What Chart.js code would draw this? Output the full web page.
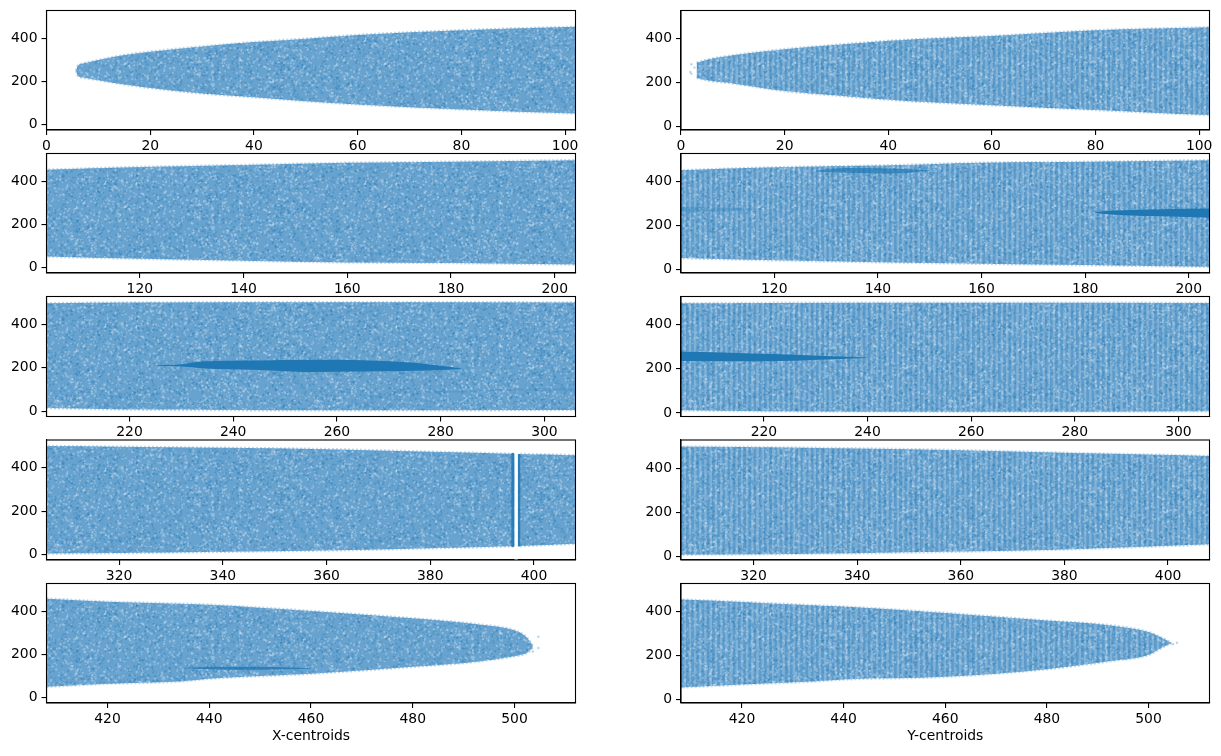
<!DOCTYPE html>
<html>
<head>
<meta charset="utf-8">
<title>Centroids</title>
<script src="https://cdn.jsdelivr.net/npm/chart.js@4"></script>
<style>
html, body { margin: 0; padding: 0; background: #fff; }
canvas { position: absolute; }
</style>
</head>
<body>
<script>
// axis limits and ticks, one entry per row
const rowMin = [0, 102, 204, 306, 408];
const rowMax = [102, 204, 306, 408, 512];
const rowTicks = [
    [0, 20, 40, 60, 80, 100],
    [120, 140, 160, 180, 200],
    [220, 240, 260, 280, 300],
    [320, 340, 360, 380, 400],
    [420, 440, 460, 480, 500]
];
const yTicks = [0, 200, 400];

// outline of the point cloud
const xCloudX = [5.7, 6, 7, 10, 15, 20, 30, 40, 50, 60, 80, 102, 120, 140, 160, 180, 204, 220, 260, 306, 320, 340, 360, 380, 397, 408, 420, 434, 440, 460, 480, 493, 500, 502, 503, 503.6];
const xCloudUpper = [250, 272, 283, 299, 322, 338, 362, 382, 398, 415, 437, 453, 466, 475, 485, 490, 497, 500, 502, 500, 497, 492, 486, 474, 464, 458, 444, 435, 430, 401, 367, 339, 312, 288, 262, 240];
const xCloudLower = [250, 228, 218, 206, 186, 170, 145, 127, 109, 94, 71, 52, 42, 33, 25, 22, 15, 8, 5, 6, 8, 14, 20, 30, 40, 51, 65, 75, 88, 111, 143, 168, 192, 202, 216, 232];

const yCloudX = [3, 5, 10, 20, 30, 40, 50, 60, 80, 102, 120, 140, 160, 180, 204, 220, 260, 306, 340, 360, 380, 408, 420, 434, 440, 460, 480, 493, 500, 503, 504.5];
const yCloudUpper = [290, 304, 324, 352, 372, 390, 403, 412, 438, 452, 465, 473, 486, 490, 497, 499, 500, 498, 490, 482, 470, 455, 444, 429, 423, 394, 359, 336, 307, 277, 258];
const yCloudLower = [222, 210, 196, 161, 141, 122, 108, 97, 75, 52, 42, 33, 26, 20, 12, 8, 6, 8, 15, 22, 32, 55, 68, 82, 91, 103, 138, 176, 203, 240, 256];

// dense streaks
const xStreakX = [225, 230, 234, 245, 255, 265, 275, 280, 284];
const xStreakUpper = [212, 216, 229, 234, 237, 235, 223, 209, 197];
const xStreakLower = [209, 206, 198, 190, 181, 183, 186, 190, 194];
const xFaintAX = [272, 284, 292, 306];
const xFaintAUpper = [92, 94, 104, 106];
const xFaintALower = [88, 86, 96, 94];
const xFaintBX = [435, 442, 450, 460];
const xFaintBUpper = [139, 144, 143, 137];
const xFaintBLower = [137, 131, 130, 134];

const yStreakX = [182, 185, 195, 204, 220, 232, 240];
const yStreakUpper = [262, 267, 274, 278, 268, 258, 251];
const yStreakLower = [258, 250, 242, 236, 234, 242, 249];
const yFaintAX = [128, 134, 142, 150];
const yFaintAUpper = [450, 462, 460, 452];
const yFaintALower = [446, 440, 436, 448];
const yFaintBX = [102, 108, 116];
const yFaintBUpper = [284, 282, 276];
const yFaintBLower = [262, 264, 270];

// empty column in the X panel and its crowded edges
const gapX = [396.2, 396.9];
const gapUpper = [530, 530];
const gapLower = [-30, -30];
const gapEdgeAX = [395.6, 396.2];
const gapEdgeAUpper = [468, 468];
const gapEdgeALower = [36, 36];
const gapEdgeBX = [396.9, 397.4];
const gapEdgeBUpper = [464, 464];
const gapEdgeBLower = [38, 38];

// stray points past the tips
const xStrayX = [504.7, 504.7, 503.6];
const xStrayY = [282, 230, 214];
const yStrayX = [2, 1.8, 2, 2.6, 505.6, 504.8];
const yStrayY = [283, 248, 240, 268, 258, 252];

const geo = {
    rowTop: [10.5, 153.5, 296.5, 440, 583.5],
    rowBottom: [130, 273, 416.5, 560, 703],
    canvasTop: [4, 147, 290, 434, 577],
    canvasHeight: [150, 150, 150, 150, 179],
    colLeft: [0, 634],
    colAxis: [46.5, 47],
    colWidth: [529, 528.5],
    canvasWidth: [587, 587]
};

const fontFamily = "'DejaVu Sans'";
const fontSize = 13.9;
const blue = '#1f77b4';
const edgeColor = 'rgba(100,160,205,0.4)';

// speckled fill for the cloud, this is only texture and no data goes through it.
// the Y column also gets faint vertical stripes, one per unit of x
function cloudPattern(stripes) {
    const size = 260;
    const tile = document.createElement('canvas');
    tile.width = size;
    tile.height = size;
    const c = tile.getContext('2d');
    c.fillStyle = 'rgb(104,163,208)';
    c.fillRect(0, 0, size, size);
    if (stripes) {
        for (let i = 0; i < 50; i++) {
            c.fillStyle = 'rgba(225,238,248,0.2)';
            c.fillRect(i * 5.2 + 2.8, 0, 2.4, size);
            c.fillStyle = 'rgba(31,119,180,0.16)';
            c.fillRect(i * 5.2, 0, 2.4, size);
        }
    }
    let seed = 4711;
    const next = () => {
        seed = (seed * 16807) % 2147483647;
        return seed / 2147483647;
    };
    for (let i = 0; i < 9000; i++) {
        const px = next() * size;
        const py = next() * size;
        const r = 0.7 + next() * 0.6;
        c.fillStyle = i % 2 === 0 ? 'rgba(232,242,250,0.3)' : 'rgba(31,119,180,0.3)';
        [-size, 0, size].forEach(dx => {
            [-size, 0, size].forEach(dy => {
                c.beginPath();
                c.arc(px + dx, py + dy, r, 0, Math.PI * 2);
                c.fill();
            });
        });
    }
    return c.createPattern(tile, 'repeat');
}

const xPattern = cloudPattern(false);
const yPattern = cloudPattern(true);

function points(xs, ys) {
    return xs.map((x, i) => ({ x: x, y: ys[i] }));
}

// two line datasets with the fill between them
function band(xs, upper, lower, color, edge) {
    const base = {
        showLine: true,
        pointRadius: 0,
        cubicInterpolationMode: 'monotone',
        borderColor: edge,
        borderWidth: edge === 'transparent' ? 0 : 2.5,
        borderDash: [2, 2],
        backgroundColor: color
    };
    return [
        { ...base, data: points(xs, upper), fill: '+1' },
        { ...base, data: points(xs, lower), fill: false }
    ];
}

function strays(xs, ys) {
    return { data: points(xs, ys), showLine: false, pointRadius: 1.2, borderWidth: 0, backgroundColor: 'rgba(31,119,180,0.3)' };
}

// first dataset ends up on top
function xDatasets() {
    return [
        strays(xStrayX, xStrayY),
        ...band(gapEdgeAX, gapEdgeAUpper, gapEdgeALower, 'rgba(31,119,180,0.85)', 'transparent'),
        ...band(gapEdgeBX, gapEdgeBUpper, gapEdgeBLower, 'rgba(31,119,180,0.85)', 'transparent'),
        ...band(gapX, gapUpper, gapLower, '#ffffff', 'transparent'),
        ...band(xStreakX, xStreakUpper, xStreakLower, blue, 'transparent'),
        ...band(xFaintAX, xFaintAUpper, xFaintALower, 'rgba(31,119,180,0.18)', 'transparent'),
        ...band(xFaintBX, xFaintBUpper, xFaintBLower, 'rgba(31,119,180,0.8)', 'transparent'),
        ...band(xCloudX, xCloudUpper, xCloudLower, xPattern, edgeColor)
    ];
}

function yDatasets() {
    return [
        strays(yStrayX, yStrayY),
        ...band(yStreakX, yStreakUpper, yStreakLower, blue, 'transparent'),
        ...band(yFaintAX, yFaintAUpper, yFaintALower, 'rgba(31,119,180,0.7)', 'transparent'),
        ...band(yFaintBX, yFaintBUpper, yFaintBLower, 'rgba(31,119,180,0.3)', 'transparent'),
        ...band(yCloudX, yCloudUpper, yCloudLower, yPattern, edgeColor)
    ];
}

// top and right spines, chart.js only gives the two axis lines
const frame = {
    id: 'frame',
    afterDraw(chart) {
        const a = chart.chartArea;
        const c = chart.ctx;
        c.save();
        c.strokeStyle = '#000';
        c.lineWidth = 1.1;
        c.strokeRect(a.left, a.top, a.right - a.left, a.bottom - a.top);
        c.restore();
    }
};

function makePanel(col, row) {
    const canvas = document.createElement('canvas');
    const w = geo.canvasWidth[col];
    const h = geo.canvasHeight[row];
    canvas.width = w;
    canvas.height = h;
    canvas.style.left = geo.colLeft[col] + 'px';
    canvas.style.top = geo.canvasTop[row] + 'px';
    canvas.style.width = w + 'px';
    canvas.style.height = h + 'px';
    document.body.appendChild(canvas);

    const axisHeight = geo.canvasTop[row] + h - geo.rowBottom[row];
    const title = col === 0 ? 'X-centroids' : 'Y-centroids';
    const tickFont = { family: fontFamily, size: fontSize };

    new Chart(canvas, {
        type: 'scatter',
        data: { datasets: col === 0 ? xDatasets() : yDatasets() },
        plugins: [frame],
        options: {
            responsive: false,
            animation: false,
            devicePixelRatio: 1,
            layout: {
                padding: {
                    top: geo.rowTop[row] - geo.canvasTop[row],
                    right: w - geo.colAxis[col] - geo.colWidth[col],
                    left: 0,
                    bottom: 0
                }
            },
            plugins: { legend: { display: false }, tooltip: { enabled: false } },
            scales: {
                x: {
                    type: 'linear',
                    min: rowMin[row],
                    max: rowMax[row],
                    afterBuildTicks: s => { s.ticks = rowTicks[row].map(v => ({ value: v })); },
                    afterFit: s => { s.height = axisHeight; s.paddingLeft = 0; s.paddingRight = 0; },
                    grid: { drawOnChartArea: false, tickLength: 5, tickColor: '#000', lineWidth: 1.1 },
                    border: { color: '#000', width: 1.1 },
                    ticks: { color: '#000', font: tickFont, padding: 3, maxRotation: 0, autoSkip: false },
                    title: {
                        display: row === 4,
                        text: title,
                        color: '#000',
                        font: tickFont,
                        padding: { top: 0, bottom: 11 }
                    }
                },
                y: {
                    min: col === 0 ? -24 : -16,
                    max: 528,
                    afterBuildTicks: s => { s.ticks = yTicks.map(v => ({ value: v })); },
                    afterFit: s => { s.width = geo.colAxis[col]; s.paddingTop = 0; s.paddingBottom = 0; },
                    grid: { drawOnChartArea: false, tickLength: 5, tickColor: '#000', lineWidth: 1.1 },
                    border: { color: '#000', width: 1.1 },
                    ticks: { color: '#000', font: tickFont, padding: 4, autoSkip: false }
                }
            }
        }
    });
}

[0, 1].forEach(col => {
    [0, 1, 2, 3, 4].forEach(row => makePanel(col, row));
});
</script>
</body>
</html>
